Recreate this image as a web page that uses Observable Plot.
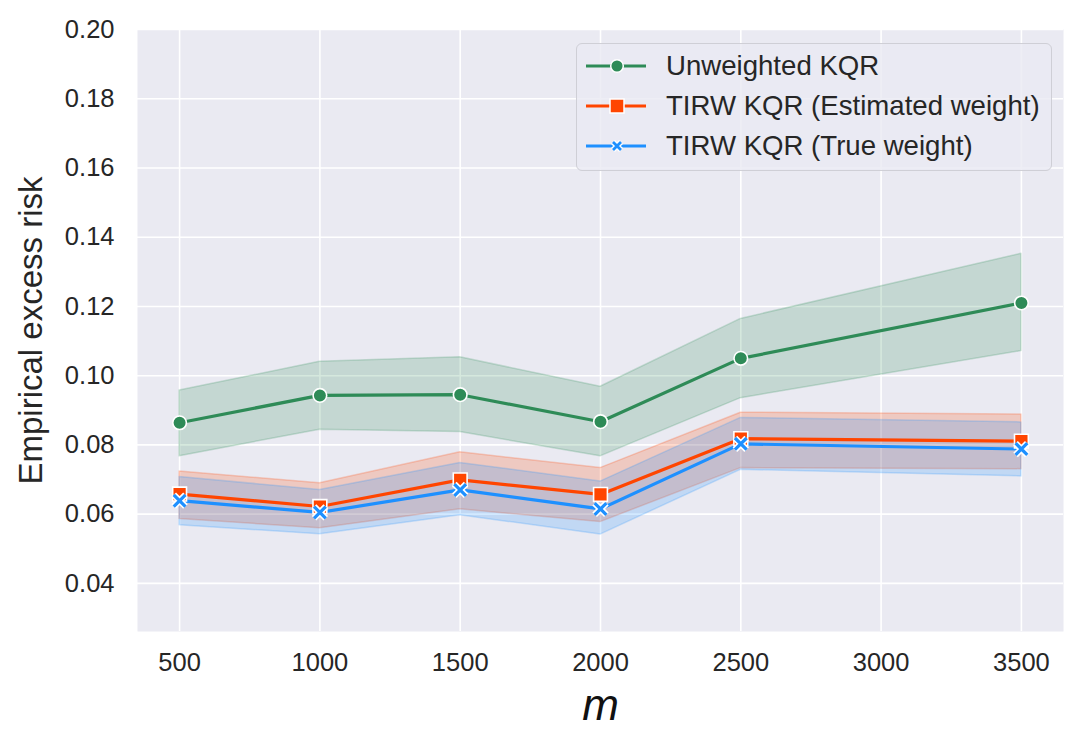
<!DOCTYPE html>
<html><head><meta charset="utf-8">
<script src="https://cdn.jsdelivr.net/npm/d3@7"></script>
<script src="https://cdn.jsdelivr.net/npm/@observablehq/plot@0.6"></script>
<style>
body{margin:0;background:#fff;}
#wrap{position:relative;width:1085px;height:748px;font-family:"Liberation Sans",Arial,sans-serif;color:#262626;}
#legend{position:absolute;left:576px;top:43px;width:474px;height:126px;border:1.5px solid #cfcfd6;border-radius:6px;background:rgba(234,234,242,0.8);}
.row{position:absolute;left:0;height:40px;width:100%;}
.row svg{position:absolute;left:8px;top:10px;}
.row span{position:absolute;left:89px;top:0;line-height:40px;font-size:27.6px;white-space:nowrap;color:#262626;}
</style></head><body><div id="wrap"></div>
<script>
// ---- data ----
const m = [500, 1000, 1500, 2000, 2500, 3500];
const seriesNames = ["Unweighted KQR", "TIRW KQR (Estimated weight)", "TIRW KQR (True weight)"];
const unweightedMean  = [0.0864, 0.0943, 0.0945, 0.0867, 0.1050, 0.1210];
const unweightedLower = [0.0767, 0.0844, 0.0837, 0.0767, 0.0935, 0.1071];
const unweightedUpper = [0.0957, 0.1040, 0.1053, 0.0968, 0.1164, 0.1352];
const estimatedMean   = [0.0658, 0.0622, 0.0699, 0.0657, 0.0818, 0.0811];
const estimatedLower  = [0.0586, 0.0559, 0.0614, 0.0577, 0.0733, 0.0730];
const estimatedUpper  = [0.0723, 0.0689, 0.0779, 0.0733, 0.0893, 0.0888];
const trueMean        = [0.0639, 0.0605, 0.0670, 0.0615, 0.0803, 0.0788];
const trueLower       = [0.0568, 0.0542, 0.0597, 0.0541, 0.0728, 0.0709];
const trueUpper       = [0.0707, 0.0670, 0.0748, 0.0694, 0.0878, 0.0865];
const xTicks = [500, 1000, 1500, 2000, 2500, 3000, 3500];
const yTicks = [0.04, 0.06, 0.08, 0.10, 0.12, 0.14, 0.16, 0.18, 0.20];
const colors = ["#2E8B57", "#FF4500", "#1E90FF"];

const table = (mean, lo, hi) => m.map((v, i) => ({m: v, mean: mean[i], lo: lo[i], hi: hi[i]}));
const tU = table(unweightedMean, unweightedLower, unweightedUpper);
const tE = table(estimatedMean, estimatedLower, estimatedUpper);
const tT = table(trueMean, trueLower, trueUpper);

const band = (t, c) => Plot.areaY(t, {x: "m", y1: "lo", y2: "hi", fill: c, fillOpacity: 0.2, stroke: c, strokeOpacity: 0.22, strokeWidth: 1.5});
const line = (t, c) => Plot.lineY(t, {x: "m", y: "mean", stroke: c, strokeWidth: 3.2});

const chart = Plot.plot({
  width: 1085, height: 748,
  marginLeft: 137, marginRight: 22, marginTop: 29, marginBottom: 117,
  style: {fontFamily: '"Liberation Sans", Arial, sans-serif', color: "#262626", background: "#fff"},
  x: {domain: [350, 3650]},
  y: {domain: [0.0261, 0.2]},
  marks: [
    Plot.frame({fill: "#EAEAF2", stroke: null}),
    Plot.gridX(xTicks, {stroke: "#fff", strokeOpacity: 1, strokeWidth: 1.6}),
    Plot.gridY(yTicks, {stroke: "#fff", strokeOpacity: 1, strokeWidth: 1.6}),
    Plot.axisY(yTicks, {tickSize: 0, tickPadding: 23, tickFormat: d3.format(".2f"), fontSize: 25.5, label: null}),
    Plot.axisX(xTicks, {tickSize: 0, tickPadding: 21, tickFormat: d => String(d), fontSize: 25.5, label: null}),
    band(tU, colors[0]),
    band(tE, colors[1]),
    band(tT, colors[2]),
    line(tU, colors[0]),
    line(tE, colors[1]),
    line(tT, colors[2]),
    Plot.dot(tU, {x: "m", y: "mean", symbol: "circle", r: 6.8, fill: colors[0], stroke: "#fff", strokeWidth: 1.6}),
    Plot.dot(tE, {x: "m", y: "mean", symbol: "square", r: 7.8, fill: colors[1], stroke: "#fff", strokeWidth: 1.6}),
    Plot.dot(tT, {x: "m", y: "mean", symbol: "times", r: 5.4, stroke: "#fff", strokeWidth: 6.5}),
    Plot.dot(tT, {x: "m", y: "mean", symbol: "times", r: 5.4, stroke: colors[2], strokeWidth: 3.2}),
    Plot.text(["Empirical excess risk"], {frameAnchor: "left", dx: -106, rotate: -90, textAnchor: "middle", fontSize: 33, fill: "#262626"}),
    Plot.text(["m"], {frameAnchor: "bottom", dy: 88, fontSize: 44, fontStyle: "italic", fill: "#111"})
  ]
});
const wrap = document.getElementById("wrap");
wrap.appendChild(chart);

// legend
const leg = document.createElement("div");
leg.id = "legend";
const sym = [
  c => `<circle cx="32" cy="10" r="6.3" fill="${c}" stroke="#fff" stroke-width="1.5"/>`,
  c => `<rect x="25" y="3" width="14" height="14" fill="${c}" stroke="#fff" stroke-width="1.5"/>`,
  c => `<path d="M28,6L36,14M36,6L28,14" stroke="#fff" stroke-width="5.5"/><path d="M28,6L36,14M36,6L28,14" stroke="${c}" stroke-width="2.8"/>`
];
seriesNames.forEach((name, i) => {
  const row = document.createElement("div");
  row.className = "row";
  row.style.top = (2 + 40 * i) + "px";
  row.innerHTML = `<svg width="64" height="20"><line x1="1" y1="10" x2="61" y2="10" stroke="${colors[i]}" stroke-width="3.2"/>${sym[i](colors[i])}</svg><span>${name}</span>`;
  leg.appendChild(row);
});
wrap.appendChild(leg);
</script></body></html>
